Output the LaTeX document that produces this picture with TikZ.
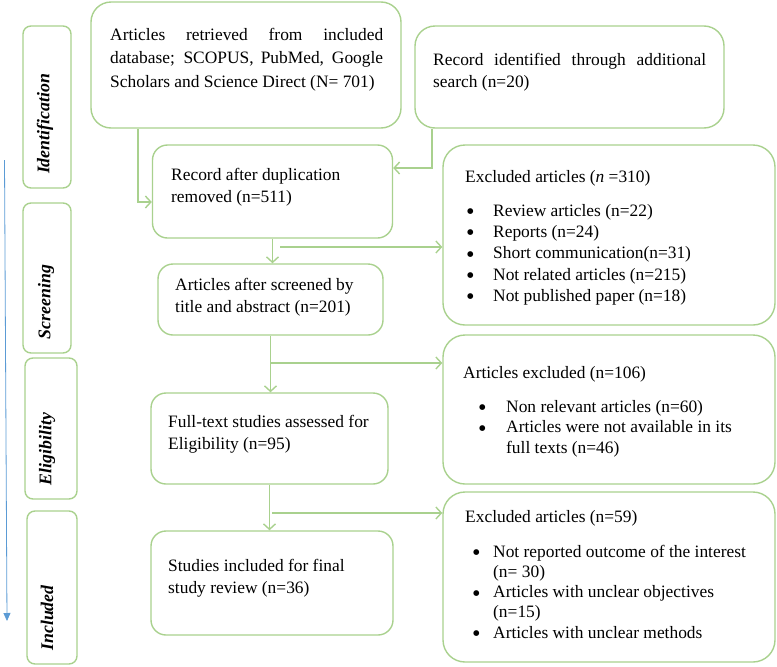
\documentclass[tikz,border=0pt]{standalone}
\usepackage{fontspec}
\setmainfont{Liberation Serif}
\newfontfamily\symfont{DejaVu Sans}
\usetikzlibrary{arrows.meta}
\definecolor{boxgreen}{RGB}{169,209,142}
\definecolor{arrowblue}{RGB}{91,155,213}
\newcommand{\bul}[1]{\makebox[#1][l]{\raisebox{2.6pt}{\symfont\fontsize{7.5}{8}\selectfont ●}}}
\begin{document}
\begin{tikzpicture}[x=1pt,y=-1pt,
  gbox/.style={draw=boxgreen,line width=1.4pt,rounded corners=#1,inner sep=0pt},
  gbox/.default=16pt,
  txt/.style={anchor=north west,inner sep=0pt,align=left,font=\fontsize{17.4}{22}\selectfont},
  lbl/.style={rotate=90,inner sep=0pt,font=\fontsize{17.8}{20}\selectfont\bfseries\itshape},
  arr/.style={draw=boxgreen,line width=1.5pt,-{Straight Barb[length=5.5pt,width=12pt,line width=1.4pt]}},
  gline/.style={draw=boxgreen,line width=1.4pt}]
\useasboundingbox (0,0) rectangle (777,667);
% stage label boxes
\draw[gbox=8pt] (23,26) rectangle (71,188);
\node[lbl] (lid) at (45,124) {Identification};
\draw[gbox=8pt] (23,203) rectangle (71,353);
\node[lbl] (lsc) at (46,302) {Screening};
\draw[gbox=8pt] (25,358) rectangle (77,499);
\node[lbl] (lel) at (47,449) {Eligibility};
\draw[gbox=8pt] (27,511) rectangle (77,664);
\node[lbl] (lin) at (47,618) {Included};
% blue arrow
\coordinate (bt) at (4.5,160);
\coordinate (bb) at (7,621);
\draw[arrowblue,line width=0.8pt,-{Triangle[length=8pt,width=7pt]}] (bt) -- (bb);
% boxes
\node[gbox=20pt,minimum width=310pt,minimum height=126pt] (b1) at (246,65) {};
\node[gbox=20pt,minimum width=309pt,minimum height=102pt] (b2) at (569.5,77) {};
\node[gbox=15pt,minimum width=240pt,minimum height=93pt] (b3) at (272.5,191.5) {};
\node[gbox=15pt,minimum width=225pt,minimum height=71pt] (b4) at (270.5,299.5) {};
\node[gbox=22pt,minimum width=332pt,minimum height=180pt] (b5) at (609,235) {};
\node[gbox=15pt,minimum width=237pt,minimum height=91pt] (b6) at (269.5,438.5) {};
\node[gbox=22pt,minimum width=332pt,minimum height=149pt] (b7) at (609,409.5) {};
\node[gbox=15pt,minimum width=242pt,minimum height=104pt] (b8) at (272,583) {};
\node[gbox=22pt,minimum width=332pt,minimum height=170pt] (b9) at (609,577) {};
% texts
\node[txt,text width=273pt,align=justify,font=\fontsize{17.4}{23.5}\selectfont] (t1) at (110,28) {Articles retrieved from included\linebreak database; SCOPUS, PubMed, Google\linebreak Scholars and Science Direct (N= 701)};
\node[txt,text width=273pt,align=justify] (t2) at (433,53) {Record identified through additional\linebreak search (n=20)};
\node[txt] (t3) at (171,168) {Record after duplication\\removed (n=511)};
\node[txt] (t4) at (175,278) {Articles after screened by\\title and abstract (n=201)};
\node[txt] (t6) at (168,415) {Full-text studies assessed for\\Eligibility (n=95)};
\node[txt] (t8) at (168,559) {Studies included for final\\study review (n=36)};
\node[txt,font=\fontsize{17.4}{21.3}\selectfont] (t5) at (465,170) {Excluded articles (\textit{n} =310)\\[12.7pt]
\hspace*{2pt}\bul{26pt}Review articles (n=22)\\
\hspace*{2pt}\bul{26pt}Reports (n=24)\\
\hspace*{2pt}\bul{26pt}Short communication(n=31)\\
\hspace*{2pt}\bul{26pt}Not related articles (n=215)\\
\hspace*{2pt}\bul{26pt}Not published paper (n=18)};
\node[txt,font=\fontsize{17.4}{20.5}\selectfont] (t7) at (463,366) {Articles excluded (n=106)\\[13.5pt]
\hspace*{16pt}\bul{27pt}Non relevant articles (n=60)\\
\hspace*{16pt}\bul{27pt}Articles were not available in its\\
\hspace*{43pt}full texts (n=46)};
\node[txt,font=\fontsize{17.4}{20.3}\selectfont] (t9) at (465,510) {Excluded articles (n=59)\\[14.5pt]
\hspace*{8pt}\bul{20pt}Not reported outcome of the interest\\
\hspace*{28pt}(n= 30)\\
\hspace*{8pt}\bul{20pt}Articles with unclear objectives\\
\hspace*{28pt}(n=15)\\
\hspace*{8pt}\bul{20pt}Articles with unclear methods};
% connectors
\draw[arr] (b1.south -| 138,0) |- ([yshift=-10.5pt]b3.west);
\draw[arr] (b2.south -| 432,0) |- ([yshift=23.5pt]b3.east);
\draw[arr] (b3.south) -- (b3.south |- b4.north);
\coordinate (j1) at (280,247);
\draw[arr] (j1) -- (j1 -| b5.west);
\draw[arr] (b4.south) -- (b4.south |- b6.north);
\coordinate (j2) at (270.5,363);
\draw[arr] (j2) -- (j2 -| b7.west);
\draw[arr] (b6.south) -- (b6.south |- b8.north);
\coordinate (j3) at (272,513);
\draw[arr] (j3) -- (j3 -| b9.west);
\end{tikzpicture}
\end{document}
